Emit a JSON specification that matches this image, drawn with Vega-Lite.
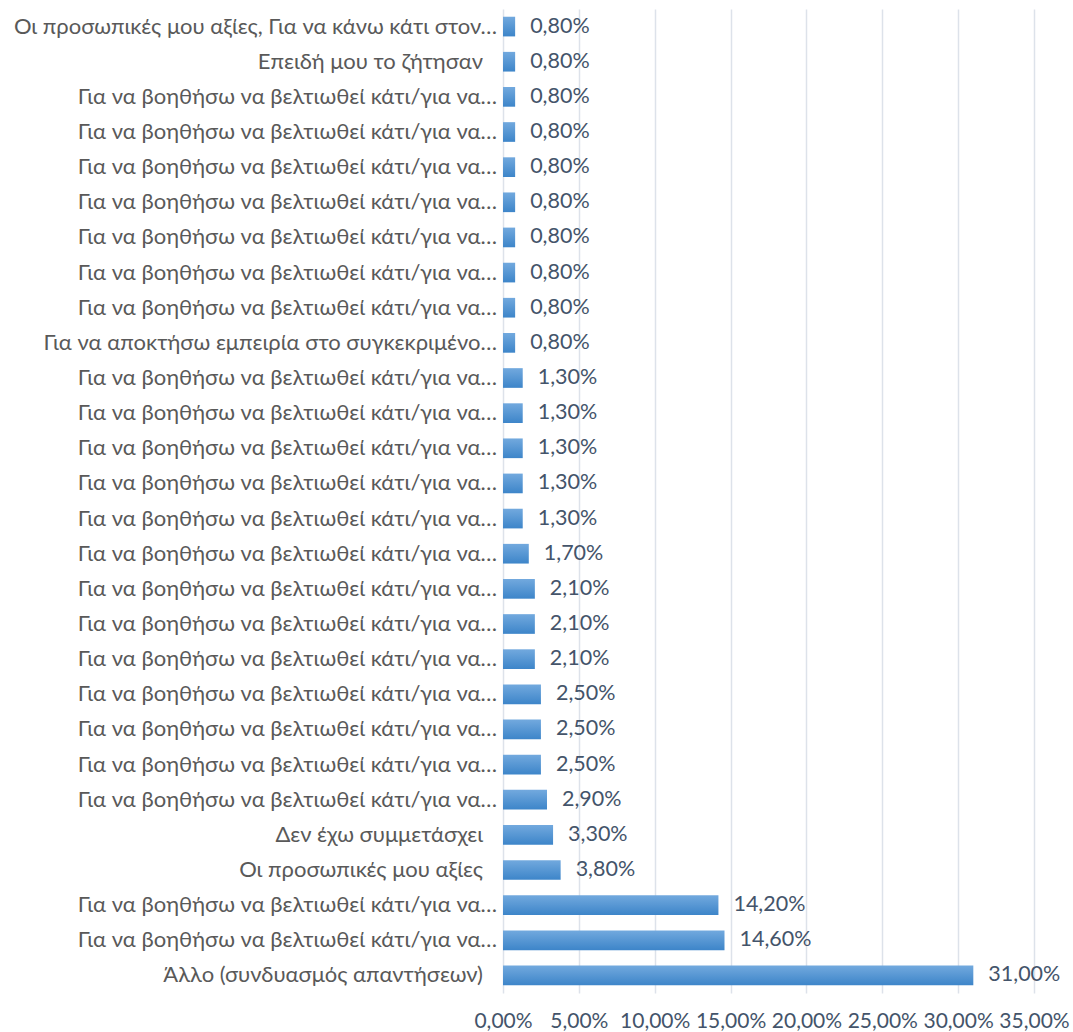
{
  "$schema": "https://vega.github.io/schema/vega-lite/v6.json",
  "autosize": "none",
  "width": 531,
  "height": 984,
  "padding": {"left": 503, "top": 9, "right": 39, "bottom": 39},
  "background": "white",
  "config": {
    "view": {"stroke": null},
    "locale": {"number": {"decimal": ",", "thousands": ".", "grouping": [3], "currency": ["", " €"]}},
    "font": "Lato"
  },
  "data": {"values": [
    {"row": 1, "answer": "Οι προσωπικές μου αξίες, Για να κάνω κάτι στον…", "share": 0.008},
    {"row": 2, "answer": "Επειδή μου το ζήτησαν", "share": 0.008},
    {"row": 3, "answer": "Για να βοηθήσω να βελτιωθεί κάτι/για να…", "share": 0.008},
    {"row": 4, "answer": "Για να βοηθήσω να βελτιωθεί κάτι/για να…", "share": 0.008},
    {"row": 5, "answer": "Για να βοηθήσω να βελτιωθεί κάτι/για να…", "share": 0.008},
    {"row": 6, "answer": "Για να βοηθήσω να βελτιωθεί κάτι/για να…", "share": 0.008},
    {"row": 7, "answer": "Για να βοηθήσω να βελτιωθεί κάτι/για να…", "share": 0.008},
    {"row": 8, "answer": "Για να βοηθήσω να βελτιωθεί κάτι/για να…", "share": 0.008},
    {"row": 9, "answer": "Για να βοηθήσω να βελτιωθεί κάτι/για να…", "share": 0.008},
    {"row": 10, "answer": "Για να αποκτήσω εμπειρία στο συγκεκριμένο…", "share": 0.008},
    {"row": 11, "answer": "Για να βοηθήσω να βελτιωθεί κάτι/για να…", "share": 0.013},
    {"row": 12, "answer": "Για να βοηθήσω να βελτιωθεί κάτι/για να…", "share": 0.013},
    {"row": 13, "answer": "Για να βοηθήσω να βελτιωθεί κάτι/για να…", "share": 0.013},
    {"row": 14, "answer": "Για να βοηθήσω να βελτιωθεί κάτι/για να…", "share": 0.013},
    {"row": 15, "answer": "Για να βοηθήσω να βελτιωθεί κάτι/για να…", "share": 0.013},
    {"row": 16, "answer": "Για να βοηθήσω να βελτιωθεί κάτι/για να…", "share": 0.017},
    {"row": 17, "answer": "Για να βοηθήσω να βελτιωθεί κάτι/για να…", "share": 0.021},
    {"row": 18, "answer": "Για να βοηθήσω να βελτιωθεί κάτι/για να…", "share": 0.021},
    {"row": 19, "answer": "Για να βοηθήσω να βελτιωθεί κάτι/για να…", "share": 0.021},
    {"row": 20, "answer": "Για να βοηθήσω να βελτιωθεί κάτι/για να…", "share": 0.025},
    {"row": 21, "answer": "Για να βοηθήσω να βελτιωθεί κάτι/για να…", "share": 0.025},
    {"row": 22, "answer": "Για να βοηθήσω να βελτιωθεί κάτι/για να…", "share": 0.025},
    {"row": 23, "answer": "Για να βοηθήσω να βελτιωθεί κάτι/για να…", "share": 0.029},
    {"row": 24, "answer": "Δεν έχω συμμετάσχει", "share": 0.033},
    {"row": 25, "answer": "Οι προσωπικές μου αξίες", "share": 0.038},
    {"row": 26, "answer": "Για να βοηθήσω να βελτιωθεί κάτι/για να…", "share": 0.142},
    {"row": 27, "answer": "Για να βοηθήσω να βελτιωθεί κάτι/για να…", "share": 0.146},
    {"row": 28, "answer": "Άλλο (συνδυασμός απαντήσεων)", "share": 0.31}
  ]},
  "encoding": {
    "y": {
      "field": "row", "type": "ordinal",
      "scale": {"paddingInner": 0.44, "paddingOuter": 0.22},
      "axis": null
    }
  },
  "layer": [
    {
      "mark": {
        "type": "bar",
        "color": {
          "gradient": "linear", "x1": 0, "y1": 0, "x2": 0, "y2": 1,
          "stops": [
            {"offset": 0, "color": "#72a9de"},
            {"offset": 1, "color": "#3d85c9"}
          ]
        }
      },
      "encoding": {
        "x": {
          "field": "share", "type": "quantitative",
          "scale": {"domain": [0, 0.35], "nice": false},
          "axis": {
            "title": null,
            "values": [0, 0.05, 0.1, 0.15, 0.2, 0.25, 0.3, 0.35],
            "format": ".2%",
            "orient": "bottom",
            "domain": false,
            "ticks": false,
            "grid": true,
            "gridColor": "#dde2ea",
            "gridWidth": 1.5,
            "labelFontSize": 21,
            "labelColor": "#44546a",
            "labelPadding": 17,
            "labelFlush": false
          }
        }
      }
    },
    {
      "mark": {"type": "text", "align": "left", "baseline": "middle", "dx": 15, "fontSize": 21.5, "color": "#44546a"},
      "encoding": {
        "x": {"field": "share", "type": "quantitative"},
        "text": {"field": "share", "type": "quantitative", "format": ".2%"}
      }
    },
    {
      "transform": [{"filter": "indexof(datum.answer, '…') >= 0"}],
      "mark": {"type": "text", "align": "right", "baseline": "middle", "dx": -6, "fontSize": 22, "color": "#595959"},
      "encoding": {
        "x": {"datum": 0, "type": "quantitative"},
        "text": {"field": "answer", "type": "nominal"}
      }
    },
    {
      "transform": [{"filter": "indexof(datum.answer, '…') < 0"}],
      "mark": {"type": "text", "align": "right", "baseline": "middle", "dx": -20, "fontSize": 22, "color": "#595959"},
      "encoding": {
        "x": {"datum": 0, "type": "quantitative"},
        "text": {"field": "answer", "type": "nominal"}
      }
    }
  ]
}
